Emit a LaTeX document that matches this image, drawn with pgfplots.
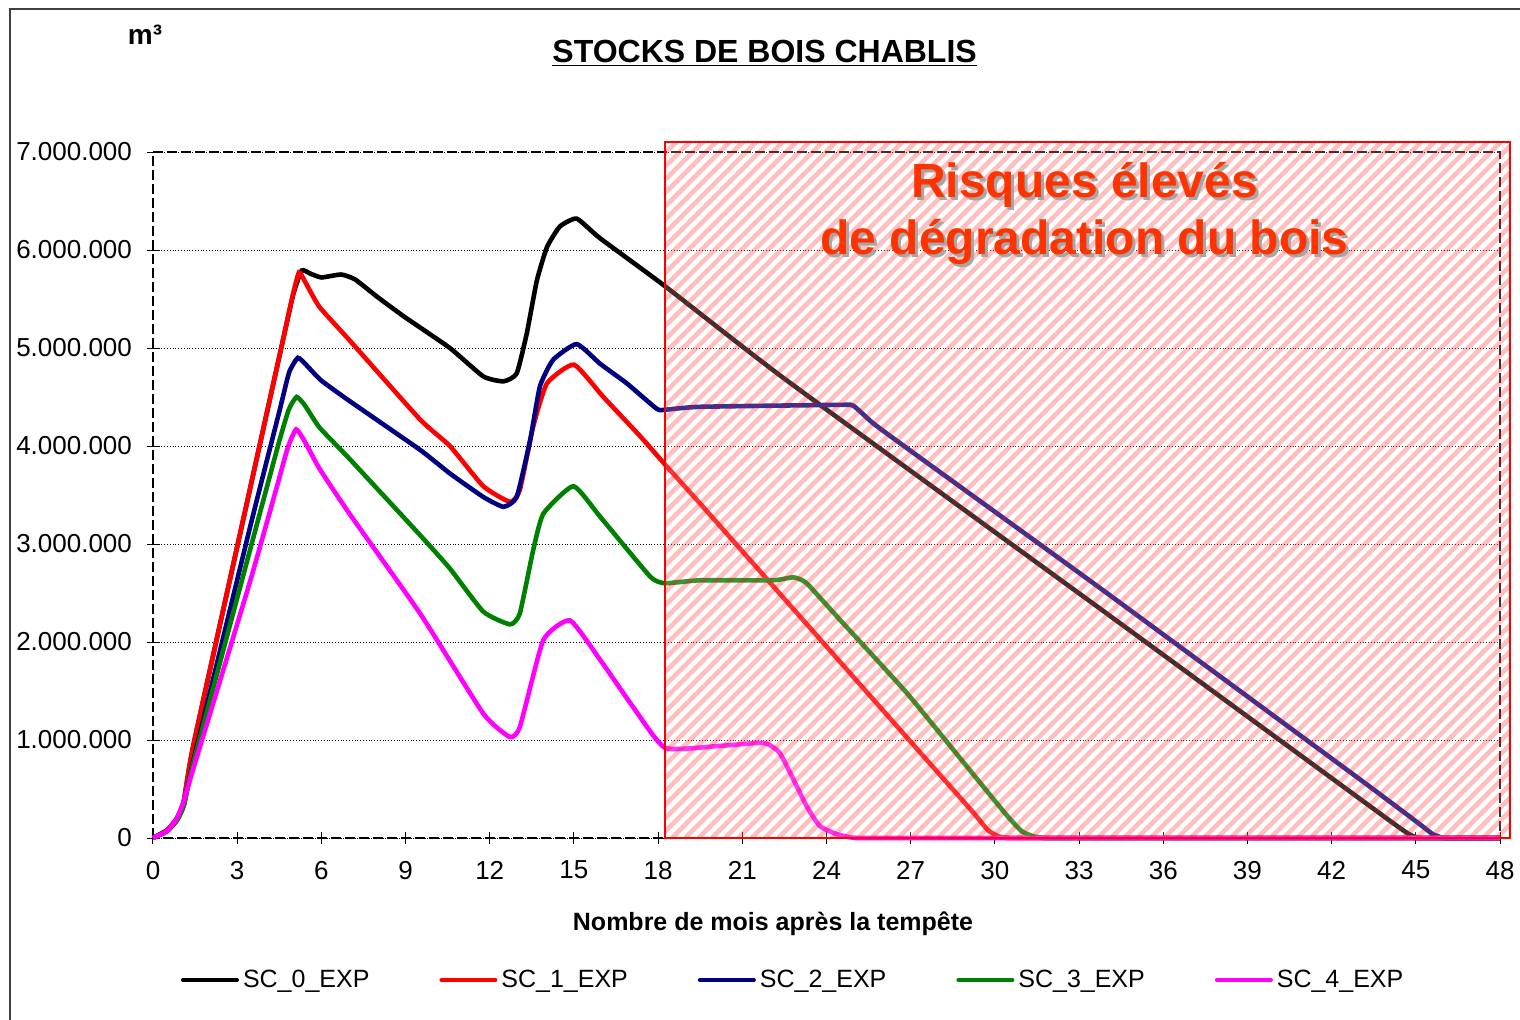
\documentclass[border=0pt]{standalone}
\usepackage{fontspec}
\setmainfont{Liberation Sans}
\usepackage{pgfplots}
\pgfplotsset{compat=1.18}
\definecolor{riskred}{RGB}{255,51,0}
\definecolor{navyc}{RGB}{0,0,128}
\definecolor{greenc}{RGB}{0,128,0}
\definecolor{magc}{RGB}{255,0,255}
\definecolor{redc}{RGB}{255,0,0}

\begin{document}
\begin{tikzpicture}
\useasboundingbox (-76.5pt,-90.5pt) rectangle (683.5pt,419pt);
\draw[black!75, line width=0.6pt] (-71.5pt,-120pt) -- (-71.5pt,414.5pt) -- (720pt,414.5pt);
\begin{axis}[
  at={(0pt,0pt)}, anchor=south west,
  scale only axis, width=673.5pt, height=343pt,
  xmin=0, xmax=48, ymin=0, ymax=7000000,
  clip=false,
  axis line style={black, dash pattern=on 5pt off 2pt, line width=1pt},
  xtick={0,3,...,48}, ytick={0,1000000,...,7000000},
  scaled y ticks=false, scaled x ticks=false,
  tick align=center, major tick length=6pt,
  tick style={black, line width=0.5pt, solid},
  xtick pos=bottom, ytick pos=left,
  ymajorgrids, major grid style={black, densely dotted, line width=0.5pt},
  tick label style={font=\fontsize{13}{15}\selectfont},
  /pgf/number format/assume math mode=true,
  y tick label style={/pgf/number format/fixed, /pgf/number format/precision=0, /pgf/number format/1000 sep={.}},
  yticklabel style={xshift=-4pt},
  xticklabel style={yshift=-5pt},
  legend columns=5,
  legend style={at={(axis description cs:0.476,-0.207)}, anchor=center, draw=none,
    font=\fontsize{12.5}{14}\selectfont,
    /tikz/every even column/.append style={column sep=33pt}},
  legend image code/.code={\draw[#1, line width=2pt, line cap=round] (0pt,0pt) -- (27pt,0pt);},
  every axis plot/.append style={line width=2.3pt, smooth, tension=0.3},
]
\addplot[black] coordinates {
(0,0) (0.5,80000) (0.85,200000) (1.1,380000) (1.45,960000) (3.44,3540000) (4.6,5040000) (5.0,5550000)
(5.3,5790000) (5.6,5760000) (6.0,5720000) (6.7,5750000) (7.2,5700000) (8,5520000) (9,5310000)
(10.58,5000000) (11.77,4710000) (12.49,4660000) (12.96,4740000) (13.32,5150000) (13.68,5690000)
(14.04,6030000) (14.5,6240000) (15.1,6320000) (15.93,6120000) (18.25,5630000) (22.58,4670000)
(33.75,2340000) (42,611000) (44.2,150000) (44.75,40000) (45.1,0) (45.6,0) (48,0)};
\addlegendentry{SC\_0\_EXP}
\addplot[redc] coordinates {
(0,0) (0.5,80000) (0.85,200000) (1.1,380000) (1.45,960000) (3.44,3540000) (4.6,5040000) (4.95,5500000)
(5.2,5770000) (5.45,5660000) (5.93,5420000) (7.0,5080000) (9.52,4270000) (10.58,4000000)
(11.77,3590000) (12.72,3430000) (13.07,3550000) (13.55,4200000) (14.04,4640000) (15.0,4830000)
(16.05,4500000) (17.36,4100000) (18.25,3810000) (20,3250000) (27.5,820000) (29.2,270000)
(29.75,80000) (30.15,15000) (30.6,0) (31.2,0) (48,0)};
\addlegendentry{SC\_1\_EXP}
\addplot[navyc] coordinates {
(0,0) (0.5,70000) (0.85,180000) (1.1,340000) (1.45,800000) (3.44,3150000) (4.5,4350000) (4.85,4750000)
(5.16,4900000) (5.45,4830000) (5.99,4670000) (7.0,4460000) (9.52,3960000) (10.58,3720000)
(11.77,3480000) (12.49,3380000) (12.96,3480000) (13.44,4060000) (13.79,4610000) (14.26,4880000)
(15.1,5040000) (15.93,4840000) (16.88,4640000) (17.95,4380000) (18.25,4370000) (19.5,4400000)
(24.48,4420000) (24.96,4410000) (25.67,4230000) (27,3950000) (33.75,2550000) (43,600000)
(45.1,150000) (45.6,40000) (46.0,0) (46.5,0) (48,0)};
\addlegendentry{SC\_2\_EXP}
\addplot[greenc] coordinates {
(0,0) (0.5,70000) (0.85,180000) (1.1,330000) (1.45,780000) (3.44,2920000) (4.5,4050000) (4.85,4380000)
(5.12,4500000) (5.4,4420000) (5.93,4190000) (7.0,3870000) (9.52,3090000) (10.58,2750000)
(11.77,2310000) (12.72,2180000) (13.07,2290000) (13.55,2940000) (13.91,3310000) (14.98,3590000)
(15.93,3280000) (17.71,2670000) (18.25,2600000) (19.5,2630000) (22.1,2630000) (22.82,2660000)
(23.29,2600000) (24.5,2220000) (26.86,1480000) (29,730000) (30.4,240000) (30.95,70000)
(31.4,15000) (31.9,0) (32.5,0) (48,0)};
\addlegendentry{SC\_3\_EXP}
\addplot[magc] coordinates {
(0,0) (0.5,70000) (0.83,190000) (1.07,350000) (1.42,690000) (3.44,2600000) (4.4,3570000) (4.8,3980000)
(5.1,4170000) (5.4,4050000) (5.93,3770000) (7.0,3310000) (9.52,2290000) (11.77,1270000)
(12.72,1030000) (13.08,1140000) (13.91,2020000) (14.86,2220000) (15.93,1820000) (17.1,1340000)
(18.25,920000) (20.2,940000) (21.75,970000) (22.35,860000) (23.3,320000) (23.77,120000)
(24.36,40000) (24.9,5000) (25.4,0) (26,0) (48,0)};
\addlegendentry{SC\_4\_EXP}
\end{axis}

\begin{scope}
\clip (256.07pt,0pt) rectangle (678.55pt,347.9pt);
\fill[white, fill opacity=0.2] (256.07pt,0pt) rectangle (678.55pt,347.9pt);
\foreach \i in {0,...,117} {
  \draw[red, draw opacity=0.25, line width=2.3pt] ({-93pt+\i*6.65pt},0pt) -- ++(350pt,350pt);
}
\end{scope}
\draw[red, line width=0.9pt] (256.07pt,0pt) rectangle (678.55pt,347.9pt);

\node[text=black!35, align=center, font=\fontsize{24}{28.5}\selectfont\bfseries]
  at (467.3pt,310.6pt) {Risques élevés\\de dégradation du bois};
\node[text=riskred, align=center, font=\fontsize{24}{28.5}\selectfont\bfseries]
  at (465.8pt,312.1pt) {Risques élevés\\de dégradation du bois};

\node[font=\fontsize{16}{19}\selectfont\bfseries] at (305.8pt,392.4pt) {\underline{STOCKS DE BOIS CHABLIS}};
\node[font=\fontsize{14}{16}\selectfont\bfseries] at (-4pt,401.5pt) {m³};
\node[font=\fontsize{12.5}{15}\selectfont\bfseries] at (310pt,-43pt) {Nombre de mois après la tempête};
\end{tikzpicture}
\end{document}
